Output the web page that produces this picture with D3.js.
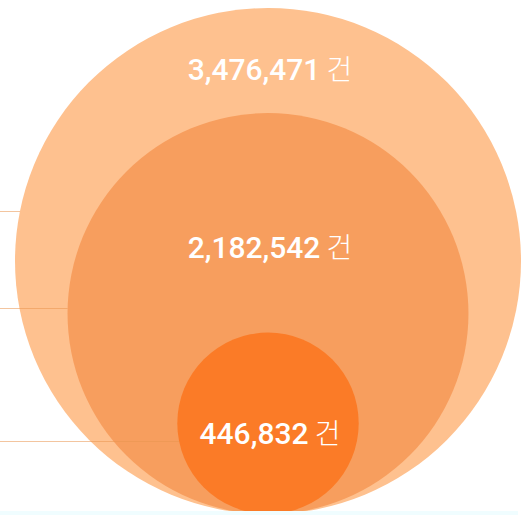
<!DOCTYPE html>
<html>
<head>
<meta charset="utf-8">
<script src="https://cdn.jsdelivr.net/npm/d3@7"></script>
<style>
  html, body { margin: 0; padding: 0; background: #fff; }
  svg { display: block; }
</style>
</head>
<body>
<div id="chart"></div>
<script>
// counts, largest first (circle area is proportional to the value)
const labels = ["3,476,471", "2,182,542", "446,832"];
const values = [3476471, 2182542, 446832];
const unit = "건";
const colors = ["#fec18f", "#f79e5e", "#fb7b27"];

const width = 527;
const height = 515;
const cx = 268;
const bottom = 514;
const maxR = 253;

// leader line position (fraction of radius from centre) and label offset from centre
const leaderK = [-0.198, -0.028, 0.2];
const labelDy = [-181, -56, 21];

const r = d3.scaleSqrt().domain([0, d3.max(values)]).range([0, maxR]);

const svg = d3.select("#chart")
    .append("svg")
    .attr("width", width)
    .attr("height", height);

svg.append("clipPath").attr("id", "clip")
    .append("rect").attr("x", 0).attr("y", 0).attr("width", width).attr("height", 511);

const g = svg.append("g").attr("clip-path", "url(#clip)");

const nodes = values.map((v, i) => {
    const rad = r(v);
    return { label: labels[i], value: v, r: rad, cy: bottom - rad, color: colors[i], i };
});

nodes.forEach(d => {
    g.append("circle")
        .attr("cx", cx)
        .attr("cy", d.cy)
        .attr("r", d.r)
        .attr("fill", d.color);

    // leader line from the left edge to this circle's edge
    const ly = d.cy + leaderK[d.i] * d.r;
    const dx = Math.sqrt(d.r * d.r - (ly - d.cy) * (ly - d.cy));
    g.append("line")
        .attr("x1", 0)
        .attr("x2", cx - dx)
        .attr("y1", Math.round(ly) + 0.5)
        .attr("y2", Math.round(ly) + 0.5)
        .attr("stroke", "#ea9650")
        .attr("stroke-opacity", 0.55)
        .attr("stroke-width", 1);
});

const text = g.selectAll("text.lbl")
    .data(nodes)
    .join("text")
    .attr("class", "lbl")
    .attr("x", cx + 2)
    .attr("y", d => d.cy + labelDy[d.i])
    .attr("text-anchor", "middle")
    .attr("fill", "#fff")
    .style("font-family", "Roboto, 'Noto Sans', sans-serif")
    .style("font-size", "30px")
    .style("font-weight", 500);

text.append("tspan").text(d => d.label);
text.append("tspan")
    .text(" " + unit)
    .style("font-family", "'Noto Sans CJK KR', sans-serif")
    .style("font-weight", 300)
    .style("font-size", "28px");

// faint strip along the bottom edge
svg.append("rect")
    .attr("x", 0).attr("y", 511)
    .attr("width", 518).attr("height", 4)
    .attr("fill", "#f0fdff");
</script>
</body>
</html>
